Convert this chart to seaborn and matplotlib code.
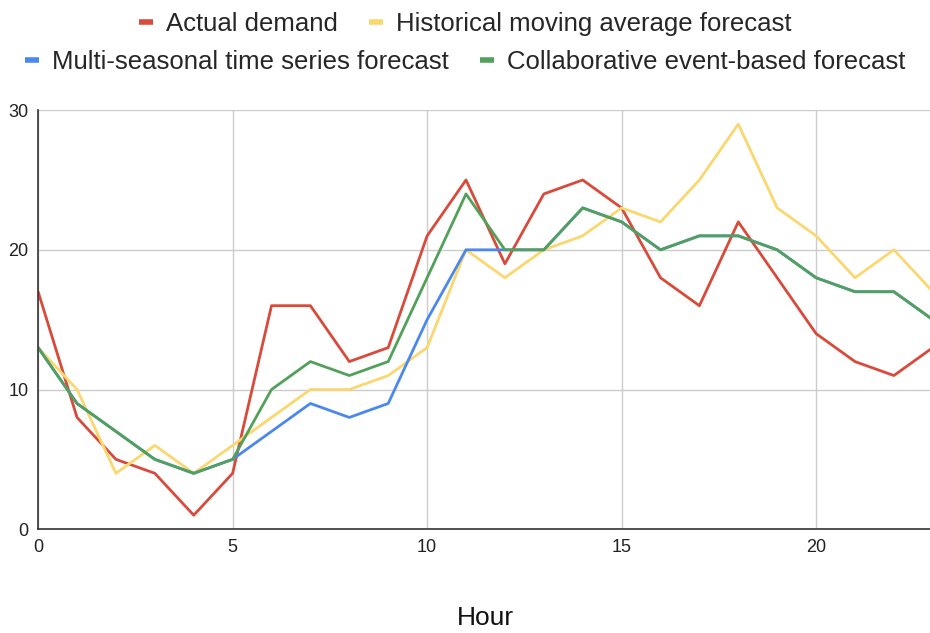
import matplotlib
matplotlib.use("Agg")
import matplotlib.pyplot as plt
from matplotlib.lines import Line2D
import seaborn as sns
import pandas as pd

# hourly demand vs the three forecasts
hours = list(range(24))
actual = [17, 8, 5, 4, 1, 4, 16, 16, 12, 13, 21, 25, 19, 24, 25, 23, 18, 16, 22, 18, 14, 12, 11, 13]
historical = [13, 10, 4, 6, 4, 6, 8, 10, 10, 11, 13, 20, 18, 20, 21, 23, 22, 25, 29, 23, 21, 18, 20, 17]
multi_seasonal = [13, 9, 7, 5, 4, 5, 7, 9, 8, 9, 15, 20, 20, 20, 23, 22, 20, 21, 21, 20, 18, 17, 17, 15]
collaborative = [13, 9, 7, 5, 4, 5, 10, 12, 11, 12, 18, 24, 20, 20, 23, 22, 20, 21, 21, 20, 18, 17, 17, 15]

names = ["Actual demand", "Historical moving average forecast",
         "Multi-seasonal time series forecast", "Collaborative event-based forecast"]
colors = ["#d94a3b", "#fbd770", "#4a88ef", "#52a05a"]

df = pd.DataFrame({
    "Hour": hours * 4,
    "value": actual + historical + multi_seasonal + collaborative,
    "series": [n for n in names for _ in hours],
})

sns.set_style("white")
plt.rcParams["font.family"] = ["Liberation Sans", "DejaVu Sans"]

fig = plt.figure(figsize=(9.3, 6.33), dpi=100)
ax = fig.add_axes([0.041, 0.164, 0.962, 0.662])

sns.lineplot(data=df, x="Hour", y="value", hue="series", hue_order=names,
             palette=dict(zip(names, colors)), linewidth=2, ax=ax, legend=False)

ax.set_xlim(0, 23)
ax.set_ylim(0, 30)
ax.set_xticks([0, 5, 10, 15, 20])
ax.set_yticks([0, 10, 20, 30])
ax.grid(True, color="#cccccc", linewidth=1)
ax.tick_params(axis="both", labelsize=13, length=0, pad=7, colors="#222222")
for s in ["top", "right"]:
    ax.spines[s].set_visible(False)
ax.spines["left"].set_color("#333333")
ax.spines["bottom"].set_color("#333333")
ax.spines["left"].set_linewidth(1.2)
ax.spines["bottom"].set_linewidth(1.2)
ax.set_ylabel("")
ax.set_xlabel("Hour", fontsize=19, labelpad=36, color="#111111")

def handles(idx):
    return [Line2D([], [], color=colors[i], lw=4, solid_capstyle="butt") for i in idx]

leg_kw = dict(loc="center", ncol=2, frameon=False, fontsize=18.5,
              handlelength=0.55, handletextpad=0.5, columnspacing=1.2)
fig.legend(handles([0, 1]), [names[0], names[1]],
           bbox_to_anchor=(0.5, 1 - 24 / 633), **leg_kw)
fig.legend(handles([2, 3]), [names[2], names[3]],
           bbox_to_anchor=(0.5, 1 - 62 / 633), **leg_kw)

fig.savefig("out.png", dpi=100)
